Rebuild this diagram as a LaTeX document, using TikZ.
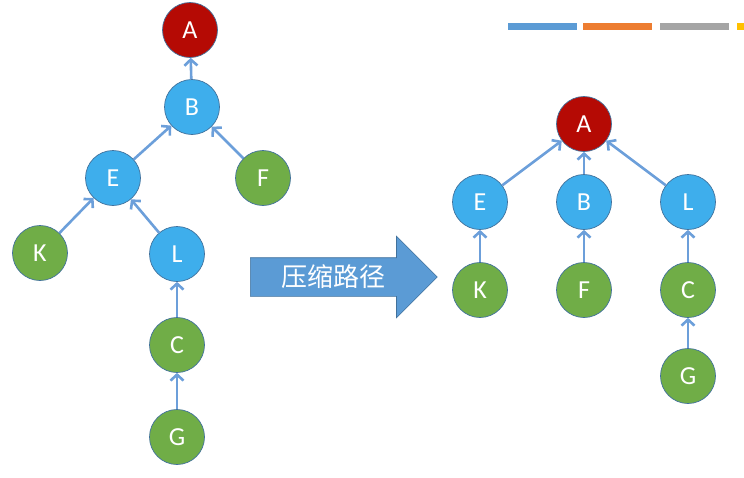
\documentclass[tikz,border=0pt]{standalone}
\usepackage{fontspec}
\setmainfont{Carlito}
\newfontfamily\cjk{Noto Sans CJK SC}
\usetikzlibrary{arrows.meta,shapes.arrows}
\definecolor{rootred}{HTML}{B50A04}
\definecolor{midblue}{HTML}{3EAEEC}
\definecolor{leafgreen}{HTML}{70AD47}
\definecolor{linkblue}{HTML}{6C9FDA}
\definecolor{rimblue}{HTML}{41719C}
\definecolor{barblue}{HTML}{5B9BD5}
\definecolor{barorange}{HTML}{ED7D31}
\definecolor{bargray}{HTML}{A5A5A5}
\definecolor{baryellow}{HTML}{FFC000}

\begin{document}
\begin{tikzpicture}[x=1pt, y=-1pt, >={Straight Barb[length=6pt,width=13pt]},
	vert/.style={circle, draw=rimblue, line width=0.7pt, minimum size=55pt, inner sep=0pt, text=white, font=\fontsize{26}{26}\selectfont},
	rootnode/.style={vert, fill=rootred},
	midnode/.style={vert, fill=midblue},
	leafnode/.style={vert, fill=leafgreen},
	link/.style={->, linkblue, line width=2.6pt}]
	\useasboundingbox (0,0) rectangle (744,477);
	\foreach \x/\c in {508/barblue, 583/barorange, 660/bargray, 737/baryellow} {\fill[\c] (\x,23) rectangle ++(69,7);}
	\foreach \n/\t/\s/\x/\y in {lA/A/rootnode/190/30, lB/B/midnode/192/107, lE/E/midnode/113/178, lF/F/leafnode/263/178, lK/K/leafnode/40/253, lL/L/midnode/177/254, lC/C/leafnode/177/345, lG/G/leafnode/177/437,
		rA/A/rootnode/584/124, rE/E/midnode/480/202, rB/B/midnode/584/202, rL/L/midnode/688/202, rK/K/leafnode/480/290, rF/F/leafnode/584/290, rC/C/leafnode/688/290, rG/G/leafnode/688/376}
		{\node[\s] (\n) at (\x,\y) {\t};}
	\foreach \c/\p in {lB/lA, lE/lB, lF/lB, lK/lE, lL/lE, lC/lL, lG/lC, rE/rA, rB/rA, rL/rA, rK/rE, rF/rB, rC/rL, rG/rC} {\draw[link] (\c) -- (\p);}
	\node[single arrow, fill=barblue, draw=rimblue, line width=0.6pt, minimum height=187pt, text height=0pt, text depth=0pt, inner xsep=0pt, inner ysep=19pt, single arrow head extend=21.5pt, single arrow head indent=0pt, anchor=tail] (shrink) at (250,277) {};
	\node[text=white, font=\cjk\fontsize{26}{26}\selectfont] (shrinktext) at (333,277) {压缩路径};
\end{tikzpicture}
\end{document}
